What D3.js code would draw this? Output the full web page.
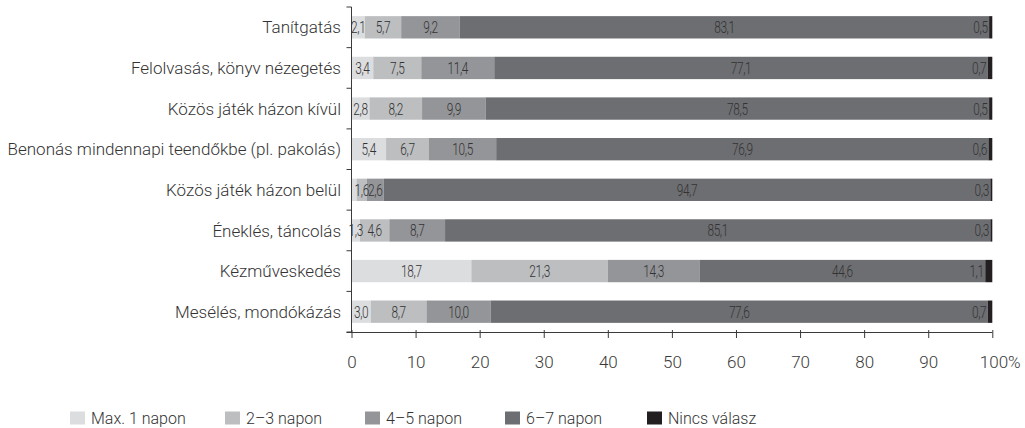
<!DOCTYPE html>
<html>
<head>
<meta charset="utf-8">
<script src="https://cdn.jsdelivr.net/npm/d3@7"></script>
<style>
  body { margin: 0; background: #fff; }
  svg text { font-family: Roboto, "Open Sans", sans-serif; font-weight: 300; fill: #333; }
</style>
</head>
<body>
<svg id="chart" width="1025" height="428"></svg>
<script>
const categories = [
  "Tanítgatás",
  "Felolvasás, könyv nézegetés",
  "Közös játék házon kívül",
  "Benonás mindennapi teendőkbe (pl. pakolás)",
  "Közös játék házon belül",
  "Éneklés, táncolás",
  "Kézműveskedés",
  "Mesélés, mondókázás"
];
const seriesNames = ["Max. 1 napon", "2–3 napon", "4–5 napon", "6–7 napon", "Nincs válasz"];
const max1 = [2.1, 3.4, 2.8, 5.4, 0.8, 1.3, 18.7, 3.0];
const nap23 = [5.7, 7.5, 8.2, 6.7, 1.6, 4.6, 21.3, 8.7];
const nap45 = [9.2, 11.4, 9.9, 10.5, 2.6, 8.7, 14.3, 10.0];
const nap67 = [83.1, 77.1, 78.5, 76.9, 94.7, 85.1, 44.6, 77.6];
const nincs = [0.5, 0.7, 0.5, 0.6, 0.3, 0.3, 1.1, 0.7];
// the 0,8 share of "Max. 1 napon" in "Közös játék házon belül" carries no label
const hideLabel = { "Max. 1 napon": ["Közös játék házon belül"] };
const xTicks = [0, 10, 20, 30, 40, 50, 60, 70, 80, 90, 100];
const colors = ["#dcdddf", "#bcbec0", "#939598", "#6d6e71", "#231f20"];

const seriesArrays = [max1, nap23, nap45, nap67, nincs];
const rows = categories.map((c, i) => {
  const r = { cat: c };
  seriesNames.forEach((s, k) => r[s] = seriesArrays[k][i]);
  return r;
});

const svg = d3.select("#chart");
const x = d3.scaleLinear().domain([0, 1]).range([351.5, 992.3]);
const xPct = d3.scaleLinear().domain([0, 100]).range([351.5, 992.3]);
const y = d3.scaleBand().domain(categories).range([7, 332]).paddingInner(0.45).paddingOuter(0.225);

const stack = d3.stack().keys(seriesNames).offset(d3.stackOffsetExpand);
const stacked = stack(rows);

const g = svg.append("g");
stacked.forEach((layer, k) => {
  g.append("g").selectAll("rect").data(layer).join("rect")
    .attr("x", d => x(d[0]))
    .attr("y", d => y(d.data.cat))
    .attr("width", d => Math.max(0, x(d[1]) - x(d[0])))
    .attr("height", y.bandwidth())
    .attr("fill", colors[k]);
});

// value labels (condensed look via horizontal scaling)
const fmt = v => v.toFixed(1).replace(".", ",");
stacked.forEach((layer, k) => {
  const key = seriesNames[k];
  const hidden = hideLabel[key] || [];
  g.append("g").selectAll("text").data(layer.filter(d => !hidden.includes(d.data.cat))).join("text")
    .attr("transform", d => {
      const cx = k === 4 ? x(d[0]) - 1.5 : (x(d[0]) + x(d[1])) / 2;
      const cy = y(d.data.cat) + y.bandwidth() / 2;
      return `translate(${cx},${cy}) scale(0.72,1)`;
    })
    .attr("dy", "0.36em")
    .attr("text-anchor", k === 4 ? "end" : "middle")
    .style("font-size", "16.5px")
    .style("letter-spacing", "-0.5px")
    .text(d => fmt(d.data[key]));
});

// y axis
const axisColor = "#3a3a3a";
svg.append("line")
  .attr("x1", x(0)).attr("x2", x(0))
  .attr("y1", y.range()[0]).attr("y2", y.range()[1])
  .attr("stroke", axisColor).attr("stroke-width", 1);
const step = y.step();
d3.range(categories.length + 1).forEach(i => {
  const yy = y.range()[0] + i * step;
  svg.append("line")
    .attr("x1", x(0) - 5).attr("x2", x(0))
    .attr("y1", yy).attr("y2", yy)
    .attr("stroke", axisColor).attr("stroke-width", 1);
});
svg.append("g").selectAll("text").data(categories).join("text")
  .attr("x", 341)
  .attr("y", d => y(d) + y.bandwidth() / 2)
  .attr("dy", "0.36em")
  .attr("text-anchor", "end")
  .style("font-size", "17px")
  .text(d => d);

// x axis
const xAxisG = svg.append("g").attr("transform", `translate(0,${y.range()[1]})`)
  .call(d3.axisBottom(xPct).tickValues(xTicks).tickSize(6).tickFormat(d => d === 100 ? "100%" : d));
xAxisG.select(".domain").attr("d", `M${x(0) - 5},0.5H${x(1)}`).attr("stroke", axisColor);
xAxisG.selectAll(".tick line").attr("stroke", axisColor).attr("y1", -2);
xAxisG.selectAll(".tick text")
  .attr("y", 24)
  .attr("font-family", null).attr("font-size", null)
  .style("font-size", "17px")
  .style("fill", "#3a3a3a")
  .attr("text-anchor", d => d === 100 ? "start" : "middle")
  .attr("dx", d => d === 100 ? -13 : 0);

// legend
const legendX = [70, 225, 365, 505, 647];
const lg = svg.append("g");
seriesNames.forEach((s, k) => {
  lg.append("rect").attr("x", legendX[k]).attr("y", 411.5).attr("width", 15).attr("height", 13).attr("fill", colors[k]);
  lg.append("text").attr("x", legendX[k] + 21).attr("y", 418).attr("dy", "0.36em")
    .style("font-size", "16px").text(s);
});
</script>
</body>
</html>
